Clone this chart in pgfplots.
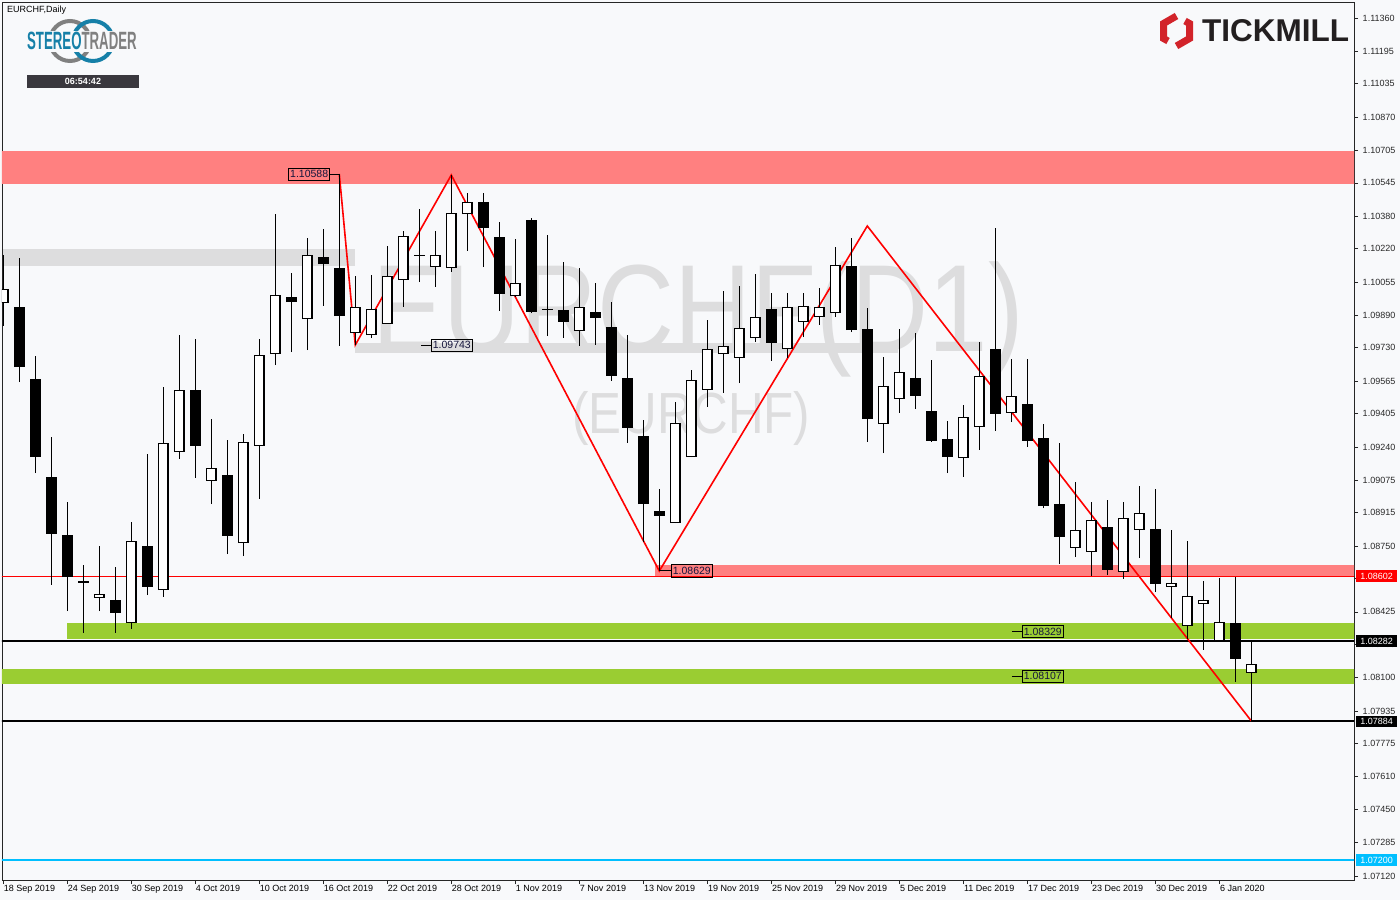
\documentclass[border=0pt]{standalone}
\usepackage{fontspec}
\setmainfont{Liberation Sans}
\usepackage{pgfplots}
\usepackage{pgfplotstable}
\pgfplotsset{compat=1.18}

\definecolor{bg}{RGB}{248,249,251}
\definecolor{zonered}{RGB}{255,128,128}
\definecolor{zonegreen}{RGB}{154,205,50}
\definecolor{wm}{RGB}{221,221,222}
\definecolor{cyanl}{RGB}{0,191,255}
\definecolor{stblue}{RGB}{22,128,168}
\definecolor{stgrey}{RGB}{128,128,128}
\definecolor{tmred}{RGB}{210,35,42}
\definecolor{tmdark}{RGB}{35,31,32}
\definecolor{timerbg}{RGB}{58,56,62}
\definecolor{labtext}{RGB}{20,20,60}
\definecolor{axtext}{RGB}{40,40,40}

\tikzset{lbl/.style={draw=black, line width=0.7pt, inner xsep=1.5pt, inner ysep=2.5pt,
  text height=7.5pt, text depth=0pt, font=\fontsize{10.5}{11}\selectfont, text=labtext},
  rlbl/.style={anchor=west, inner xsep=4.5pt, inner ysep=2.5pt, text height=6.5pt, text depth=0pt,
  font=\fontsize{9}{10}\selectfont}}

% bullish (white) candles: index open high low close
\pgfplotstableread{
i O H L C
0 1.09956 1.10189 1.09838 1.10016
6 1.08499 1.08751 1.08429 1.08508
8 1.08375 1.08869 1.08340 1.08770
10 1.08538 1.09536 1.08499 1.09255
11 1.09220 1.09793 1.09181 1.09517
13 1.09077 1.09378 1.08958 1.09131
15 1.08770 1.09304 1.08701 1.09260
16 1.09250 1.09774 1.08983 1.09690
17 1.09704 1.10391 1.09645 1.09986
19 1.09877 1.10273 1.09719 1.10184
22 1.09808 1.10085 1.09744 1.09927
23 1.09798 1.10090 1.09779 1.09917
24 1.09853 1.10233 1.09848 1.10080
25 1.10070 1.10307 1.09932 1.10278
27 1.10134 1.10307 1.10031 1.10184
28 1.10129 1.10584 1.10105 1.10391
29 1.10396 1.10495 1.10209 1.10446
32 1.09991 1.10268 1.09981 1.10045
36 1.09818 1.10125 1.09739 1.09927
42 1.08869 1.09462 1.08864 1.09354
43 1.09195 1.09620 1.09190 1.09566
44 1.09527 1.09868 1.09438 1.09719
45 1.09704 1.10011 1.09507 1.09734
46 1.09685 1.10036 1.09556 1.09823
47 1.09783 1.10095 1.09759 1.09877
49 1.09729 1.10001 1.09680 1.09927
50 1.09863 1.10001 1.09783 1.09932
51 1.09887 1.10026 1.09843 1.09927
52 1.09907 1.10228 1.09882 1.10134
55 1.09358 1.09685 1.09210 1.09536
56 1.09482 1.09823 1.09408 1.09606
60 1.09190 1.09447 1.09092 1.09383
61 1.09344 1.09759 1.09225 1.09586
63 1.09413 1.09675 1.09363 1.09487
67 1.08746 1.09067 1.08696 1.08825
68 1.08726 1.08968 1.08602 1.08874
70 1.08627 1.08968 1.08588 1.08884
71 1.08835 1.09047 1.08691 1.08909
73 1.08553 1.08830 1.08395 1.08563
74 1.08360 1.08775 1.08291 1.08499
75 1.08469 1.08578 1.08237 1.08479
76 1.08286 1.08592 1.08286 1.08370
78 1.08128 1.08281 1.07886 1.08163
}\bull

% bearish (black) candles: index open high low close
\pgfplotstableread{
i O H L C
1 1.09932 1.10174 1.09561 1.09635
2 1.09576 1.09690 1.09111 1.09190
3 1.09092 1.09289 1.08558 1.08810
4 1.08805 1.08968 1.08429 1.08597
5 1.08578 1.08657 1.08321 1.08568
7 1.08484 1.08647 1.08321 1.08420
9 1.08751 1.09205 1.08508 1.08548
12 1.09522 1.09774 1.09087 1.09245
14 1.09102 1.09274 1.08711 1.08800
18 1.09981 1.10100 1.09709 1.09956
20 1.10179 1.10317 1.09937 1.10144
21 1.10125 1.10589 1.09739 1.09887
26 1.10189 1.10416 1.10055 1.10184
30 1.10451 1.10495 1.10129 1.10322
31 1.10278 1.10352 1.09912 1.09996
33 1.10362 1.10372 1.09902 1.09907
34 1.09922 1.10288 1.09788 1.09917
35 1.09917 1.10154 1.09779 1.09858
37 1.09907 1.10050 1.09744 1.09877
38 1.09833 1.09956 1.09566 1.09591
39 1.09581 1.09793 1.09260 1.09334
40 1.09294 1.09373 1.08770 1.08958
41 1.08924 1.09032 1.08627 1.08899
48 1.09922 1.10001 1.09665 1.09754
53 1.10134 1.10273 1.09808 1.09818
54 1.09823 1.09927 1.09265 1.09378
57 1.09581 1.09803 1.09428 1.09492
58 1.09418 1.09670 1.09265 1.09270
59 1.09279 1.09368 1.09111 1.09190
62 1.09724 1.10322 1.09319 1.09403
64 1.09452 1.09675 1.09240 1.09270
65 1.09284 1.09354 1.08938 1.08948
66 1.08958 1.09260 1.08662 1.08795
69 1.08845 1.08978 1.08607 1.08632
72 1.08835 1.09032 1.08523 1.08563
77 1.08370 1.08597 1.08079 1.08192
}\bear

\begin{document}
\begin{tikzpicture}
\fill[bg] (0pt,0pt) rectangle (1400pt,900pt);
\useasboundingbox (0pt,0pt) rectangle (1400pt,900pt);

% watermark
\fill[wm] (3pt,634pt) rectangle (355pt,651pt);
\fill[wm] (355pt,547pt) rectangle (898pt,557pt);
\node[anchor=base west, inner sep=0pt, text=wm, xscale=0.86, font=\fontsize{124}{124}\selectfont] at (372pt,548pt) {EURCHF(D1)};
\node[anchor=base west, inner sep=0pt, text=wm, xscale=0.85, font=\fontsize{58}{58}\selectfont] at (572pt,466pt) {(EURCHF)};

% header
\node[anchor=west, inner sep=0pt, font=\fontsize{9}{10}\selectfont] at (7pt,890pt) {EURCHF,Daily};

% StereoTrader logo
\draw[stgrey, line width=4pt] (70pt,859pt) circle (20pt);
\draw[stblue, line width=4pt] (93pt,859pt) circle (20pt);
\fill[bg] (25pt,848pt) rectangle (141pt,869pt);
\node[anchor=base west, inner sep=0pt, xscale=0.53, font=\bfseries\fontsize{25}{25}\selectfont] at (27pt,850pt) {\textcolor{stblue}{STEREO}\textcolor{stgrey}{TRADER}};
\fill[timerbg] (27pt,812pt) rectangle (139pt,825pt);
\node[text=white, inner sep=0pt, font=\bfseries\fontsize{9}{10}\selectfont] at (83pt,818.5pt) {06:54:42};

% Tickmill logo
\draw[tmred, line width=7pt, line join=miter] (1176.5pt,884pt) -- (1163.5pt,876.5pt) -- (1163.5pt,861.5pt) -- (1168pt,859pt);
\draw[tmred, line width=7pt, line join=miter] (1176.5pt,854pt) -- (1189.5pt,861.5pt) -- (1189.5pt,876.5pt) -- (1185pt,879pt);
\node[anchor=base west, inner sep=0pt, text=tmdark, font=\bfseries\fontsize{31.5}{32}\selectfont] at (1202pt,858pt) {TICKMILL};

\begin{axis}[
  at={(2pt,20pt)}, anchor=south west,
  width=1352pt, height=878pt, scale only axis,
  xmin=-0.08, xmax=84.42, ymin=1.07100, ymax=1.11439,
  axis line style={draw=black!85, line width=0.9pt},
  xtick={0,4,...,76},
  xticklabels={18 Sep 2019,24 Sep 2019,30 Sep 2019,4 Oct 2019,10 Oct 2019,16 Oct 2019,22 Oct 2019,28 Oct 2019,1 Nov 2019,7 Nov 2019,13 Nov 2019,19 Nov 2019,25 Nov 2019,29 Nov 2019,5 Dec 2019,11 Dec 2019,17 Dec 2019,23 Dec 2019,30 Dec 2019,6 Jan 2020},
  xtick pos=bottom, ytick pos=right, yticklabel pos=right,
  tick align=outside, major tick length=4pt,
  tick style={draw=black!85, line width=0.7pt},
  xticklabel style={anchor=north west, inner sep=0pt, xshift=0.5pt, yshift=-1.5pt, font=\fontsize{9}{10}\selectfont, text=black},
  ytick={1.11360,1.11195,1.11035,1.10870,1.10705,1.10545,1.10380,1.10220,1.10055,1.09890,1.09730,1.09565,1.09405,1.09240,1.09075,1.08915,1.08750,1.08590,1.08425,1.08265,1.08100,1.07935,1.07775,1.07610,1.07450,1.07285,1.07120},
  yticklabels={1.11360,1.11195,1.11035,1.10870,1.10705,1.10545,1.10380,1.10220,1.10055,1.09890,1.09730,1.09565,1.09405,1.09240,1.09075,1.08915,1.08750,1.08590,1.08425,1.08265,1.08100,1.07935,1.07775,1.07610,1.07450,1.07285,1.07120},
  yticklabel style={anchor=west, inner sep=0pt, xshift=4.5pt, font=\fontsize{9}{10}\selectfont, text=axtext},
  scaled y ticks=false,
  clip=true,
]
% zones
\fill[zonered] (axis cs:-1,1.10540) rectangle (axis cs:90,1.10705);
\fill[zonered] (axis cs:40.75,1.08602) rectangle (axis cs:90,1.08657);
\fill[zonegreen] (axis cs:3.98,1.08291) rectangle (axis cs:90,1.08370);
\fill[zonegreen] (axis cs:-1,1.08069) rectangle (axis cs:90,1.08143);
% horizontal lines
\draw[red, line width=1pt] (axis cs:-1,1.08602) -- (axis cs:90,1.08602);
\draw[black, line width=2pt] (axis cs:-1,1.08282) -- (axis cs:90,1.08282);
\draw[black, line width=2pt] (axis cs:-1,1.07884) -- (axis cs:90,1.07884);
\draw[cyanl, line width=2pt] (axis cs:-1,1.07200) -- (axis cs:90,1.07200);
% zigzag
\addplot[red, line width=1.6pt, forget plot] coordinates {(21,1.10589) (22,1.09744) (28,1.10584) (41,1.08627) (54,1.10332) (78,1.07886)};
% wicks
\addplot[draw=none, mark=none, forget plot, error bars/.cd, y dir=plus, y explicit, error mark=none,
  error bar style={draw=black, line width=1.1pt}]
  table[x=i, y=L, y error plus expr=\thisrow{H}-\thisrow{L}] {\bull};
\addplot[draw=none, mark=none, forget plot, error bars/.cd, y dir=plus, y explicit, error mark=none,
  error bar style={draw=black, line width=1.1pt}]
  table[x=i, y=L, y error plus expr=\thisrow{H}-\thisrow{L}] {\bear};
% bear bodies
\addplot[draw=none, mark=none, forget plot, error bars/.cd, y dir=plus, y explicit, error mark=none,
  error bar style={draw=black, line width=10.5pt}]
  table[x=i, y=C, y error plus expr=\thisrow{O}-\thisrow{C}] {\bear};
% bull bodies: outline then white fill
\addplot[draw=none, mark=none, forget plot, error bars/.cd, y dir=plus, y explicit, error mark=none,
  error bar style={draw=black, line width=10.5pt}]
  table[x=i, y expr=\thisrow{O}-0.00005, y error plus expr=\thisrow{C}-\thisrow{O}+0.0001] {\bull};
\addplot[draw=none, mark=none, forget plot, error bars/.cd, y dir=plus, y explicit, error mark=none,
  error bar style={draw=white, line width=8.3pt}]
  table[x=i, y=O, y error plus expr=\thisrow{C}-\thisrow{O}] {\bull};
% labels
\draw[black, line width=0.8pt] (axis cs:20.42,1.10588) -- (axis cs:21,1.10588);
\node[lbl, anchor=east] at (axis cs:20.42,1.10588) {1.10588};
\draw[black, line width=0.8pt] (axis cs:26.11,1.09743) -- (axis cs:26.73,1.09743);
\node[lbl, anchor=west] at (axis cs:26.73,1.09743) {1.09743};
\draw[black, line width=0.8pt] (axis cs:41,1.08629) -- (axis cs:41.73,1.08629);
\node[lbl, anchor=west] at (axis cs:41.73,1.08629) {1.08629};
\draw[black, line width=0.8pt] (axis cs:63.04,1.08329) -- (axis cs:63.67,1.08329);
\node[lbl, anchor=west] at (axis cs:63.67,1.08329) {1.08329};
\draw[black, line width=0.8pt] (axis cs:63.04,1.08107) -- (axis cs:63.67,1.08107);
\node[lbl, anchor=west] at (axis cs:63.67,1.08107) {1.08107};
% anchors for right labels
\coordinate (rl1) at (axis cs:84.42,1.08602);
\coordinate (rl2) at (axis cs:84.42,1.08282);
\coordinate (rl3) at (axis cs:84.42,1.07884);
\coordinate (rl4) at (axis cs:84.42,1.07200);
\end{axis}
\node[rlbl, fill=red, text=white] at ([xshift=1.7pt]rl1) {1.08602};
\node[rlbl, fill=black, text=white] at ([xshift=1.7pt]rl2) {1.08282};
\node[rlbl, fill=black, text=white] at ([xshift=1.7pt]rl3) {1.07884};
\node[rlbl, fill=cyanl, text=white] at ([xshift=1.7pt]rl4) {1.07200};
\end{tikzpicture}
\end{document}
